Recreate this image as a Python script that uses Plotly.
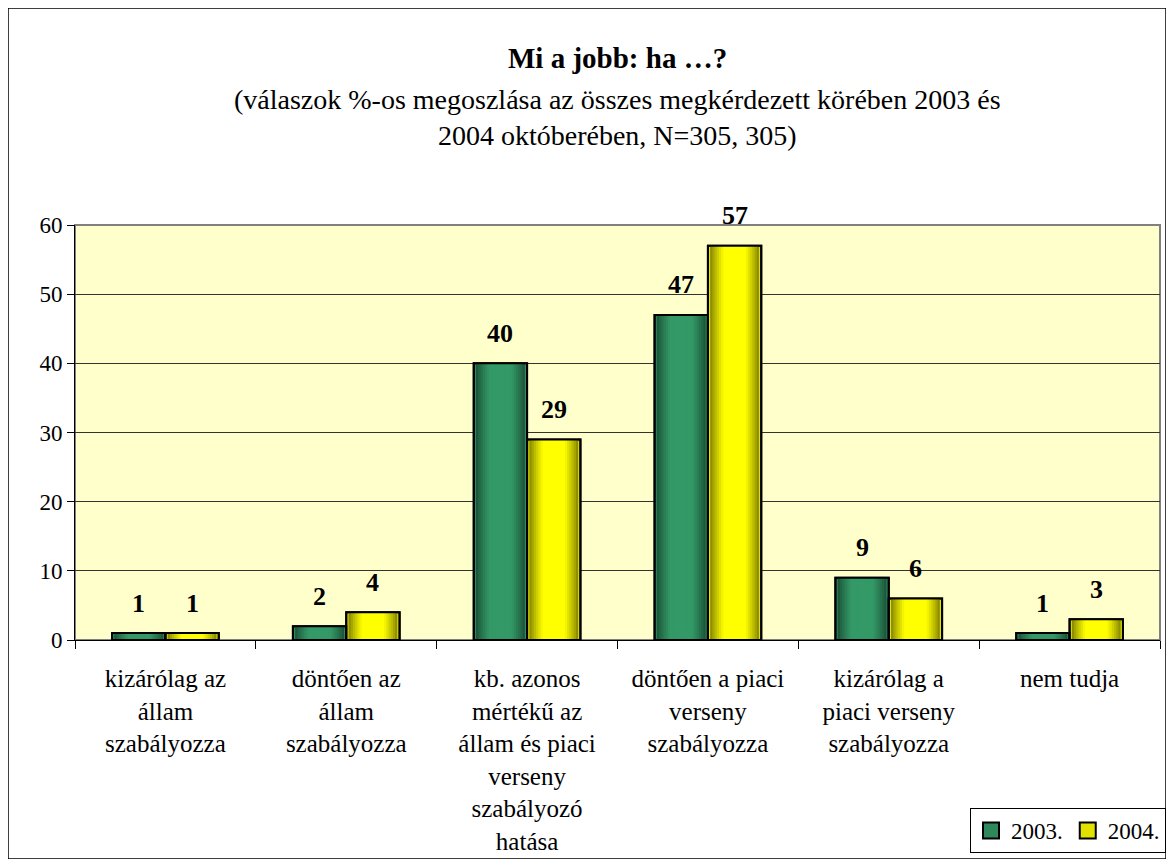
import plotly.graph_objects as go

categories = [
    "kizárólag az<br>állam<br>szabályozza",
    "döntően az<br>állam<br>szabályozza",
    "kb. azonos<br>mértékű az<br>állam és piaci<br>verseny<br>szabályozó<br>hatása",
    "döntően a piaci<br>verseny<br>szabályozza",
    "kizárólag a<br>piaci verseny<br>szabályozza",
    "nem tudja",
]
values_2003 = [1, 2, 40, 47, 9, 1]
values_2004 = [1, 4, 29, 57, 6, 3]
series_names = ["2003.", "2004."]

SERIF = "Liberation Serif, Times New Roman, serif"
BAR_W = 0.295          # width of one bar, in category units
N_LAYERS = 12          # layers used to fake the cylinder shading


def mix(c1, c2, t):
    return "rgb({},{},{})".format(*[round(a + (b - a) * t) for a, b in zip(c1, c2)])


series = [
    dict(name=series_names[0], y=values_2003, center=-BAR_W / 2,
         edge=(24, 70, 48), mid=(51, 153, 102), base="#2E8B5E", shift=-26.7),
    dict(name=series_names[1], y=values_2004, center=BAR_W / 2,
         edge=(110, 110, 0), mid=(255, 255, 0), base="#E6E600", shift=26.7),
]

fig = go.Figure()

for s in series:
    # base bar with outline
    fig.add_trace(go.Bar(
        x=categories, y=s["y"], name=s["name"], showlegend=False,
        width=BAR_W, offset=s["center"] - BAR_W / 2,
        marker=dict(color=s["base"], line=dict(color="black", width=2)),
        hoverinfo="skip",
    ))
    # shading layers, narrower and brighter toward the middle
    for k in range(1, N_LAYERS):
        w = BAR_W * (1 - k / N_LAYERS)
        t = min(1.0, (k / (N_LAYERS * 0.55)) ** 0.8)
        fig.add_trace(go.Bar(
            x=categories, y=s["y"], showlegend=False,
            width=w, offset=s["center"] - w / 2,
            marker=dict(color=mix(s["edge"], s["mid"], t), line=dict(width=0)),
            hoverinfo="skip",
        ))

# outlines on top of the shading
for s in series:
    fig.add_trace(go.Bar(
        x=categories, y=s["y"], showlegend=False,
        width=BAR_W, offset=s["center"] - BAR_W / 2,
        marker=dict(color="rgba(0,0,0,0)", line=dict(color="black", width=2)),
        hovertemplate=s["name"] + ": %{y}<extra></extra>",
    ))

# legend entries with bigger square keys
for s in series:
    fig.add_trace(go.Scatter(
        x=[None], y=[None], mode="markers", name=s["name"],
        marker=dict(symbol="square", size=16, color=mix(s["edge"], s["mid"], 0.8),
                    line=dict(color="black", width=2)),
    ))

# value labels above the bars
annotations = []
for s in series:
    for cat, v in zip(categories, s["y"]):
        annotations.append(dict(
            x=cat, y=v, xref="x", yref="y", text="<b>{}</b>".format(v),
            xshift=s["shift"], yshift=30, yanchor="middle", showarrow=False,
            font=dict(family=SERIF, size=26, color="black"),
        ))

annotations += [
    dict(text="<b>Mi a jobb: ha …?</b>", xref="paper", yref="paper",
         x=0.5, y=1.0, yshift=167, yanchor="middle", showarrow=False,
         font=dict(family=SERIF, size=29)),
    dict(text="(válaszok %-os megoszlása az összes megkérdezett körében 2003 és<br>"
              "2004 októberében, N=305, 305)",
         xref="paper", yref="paper", x=0.5, y=1.0, yshift=108, yanchor="middle",
         showarrow=False, font=dict(family=SERIF, size=28)),
]

fig.update_layout(
    width=1158, height=851,
    margin=dict(l=67, r=6, t=217, b=219, autoexpand=False),
    paper_bgcolor="white",
    plot_bgcolor="#FFFFCC",
    barmode="overlay",
    font=dict(family=SERIF, size=24, color="black"),
    showlegend=True,
    legend=dict(
        orientation="h", xref="container", yref="container",
        x=1.0, xanchor="right", y=1 - 800 / 851, yanchor="top",
        bordercolor="black", borderwidth=1, bgcolor="white",
        font=dict(family=SERIF, size=23),
        itemwidth=30, tracegroupgap=0,
    ),
    xaxis=dict(
        showline=True, linecolor="black", linewidth=1,
        ticks="outside", ticklen=8, tickcolor="black",
        showgrid=False, tickson="boundaries",
        tickfont=dict(family=SERIF, size=25),
        ticklabelstandoff=16,
    ),
    yaxis=dict(
        range=[0, 60], dtick=10,
        showline=True, linecolor="black", linewidth=1,
        ticks="outside", ticklen=7, tickcolor="black",
        gridcolor="#333333", gridwidth=1,
        tickfont=dict(family=SERIF, size=23),
        zeroline=False,
    ),
    annotations=annotations,
    shapes=[
        # grey frame of the plot area
        dict(type="rect", xref="paper", yref="paper", x0=0, x1=1, y0=0, y1=1,
             line=dict(color="#808080", width=2), layer="below"),
        # outer frame of the whole chart
        dict(type="rect", xref="paper", yref="paper",
             x0=-67 / 1085, x1=1 + 6 / 1085, y0=-219 / 415, y1=1 + 217 / 415,
             line=dict(color="black", width=1.5)),
    ],
)

fig.write_html("out.html")
